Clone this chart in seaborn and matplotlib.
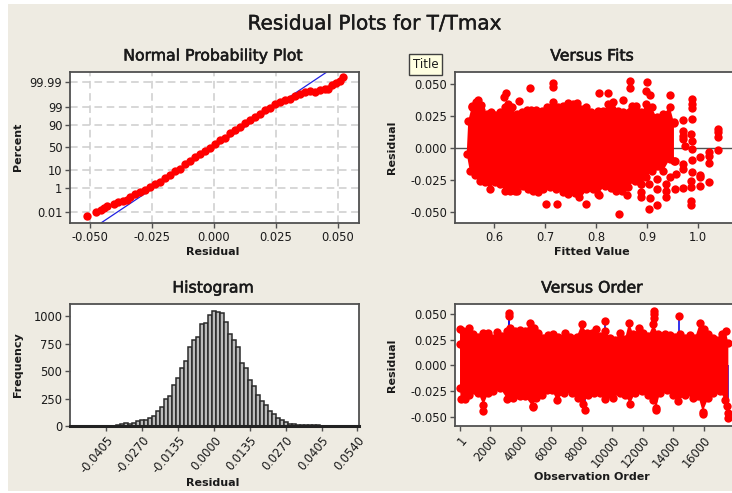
from statistics import NormalDist

import matplotlib.patheffects as pe
import numpy as np
import pandas as pd
import seaborn as sns
from matplotlib import pyplot as plt
from matplotlib.patches import Rectangle

# normal probability plot, y is the normal score of the percent
npp_resid = [-.0514, -.0478, -.0454, -.0444, -.0433, -.0404, -.0386, -.0366, -.0350, -.0337, -.0319, -.0299,
             -.0279, -.0258, -.0238, -.0218, -.0198, -.0178, -.0157, -.0137, -.0117, -.0097, -.0077, -.0057,
             -.0036, -.0016, .0004, .0024, .0044, .0065, .0085, .0105, .0125, .0145, .0166, .0186, .0206,
             .0226, .0246, .0267, .0287, .0307, .0327, .0347, .0367, .0388, .0408, .0428, .0448, .0462,
             .0475, .0495, .0509, .0522]
npp_score = [-3.92, -3.71, -3.58, -3.45, -3.33, -3.24, -3.14, -3.09, -3.01, -2.82, -2.70, -2.57,
             -2.42, -2.25, -2.11, -1.96, -1.73, -1.58, -1.37, -1.22, -.97, -.76, -.57, -.40,
             -.19, -.04, .17, .40, .55, .80, .99, 1.18, 1.37, 1.56, 1.71, 1.90, 2.10,
             2.27, 2.46, 2.59, 2.69, 2.76, 2.90, 3.03, 3.14, 3.22, 3.16, 3.28, 3.31, 3.35,
             3.56, 3.66, 3.81, 4.04]
fit_resid = [-.0454, .0455]
fit_score = [-4.31, 4.29]
percent_ticks = [0.01, 1, 10, 50, 90, 99, 99.99]
percent_labels = ["0.01", "1", "10", "50", "90", "99", "99.99"]
npp_xticks = [-.05, -.025, 0, .025, .05]

# versus fits, the solid mass as upper and lower edges plus the separate points
fits_up_x = [.549, .556, .565, .575, .585, .593, .601, .611, .621, .628, .634, .644, .654, .664, .673, .683,
             .693, .703, .716, .726, .735, .745, .755, .762, .771, .781, .791, .804, .814, .824, .834, .843,
             .853, .870, .879, .889, .899, .909, .919, .932, .945, .953]
fits_up_y = [.0213, .0323, .0357, .0297, .0265, .0278, .0260, .0278, .0318, .0344, .0318, .0265, .0278, .0297,
             .0297, .0297, .0286, .0323, .0357, .0318, .0331, .0351, .0344, .0351, .0305, .0323, .0278, .0291,
             .0286, .0344, .0357, .0291, .0278, .0331, .0331, .0278, .0344, .0318, .0239, .0265, .0318, .0200]
fits_low_x = [.546, .552, .562, .572, .582, .592, .601, .611, .621, .631, .644, .657, .667, .677, .686, .696,
              .709, .722, .735, .745, .758, .768, .781, .794, .804, .817, .830, .840, .850, .863, .876, .889,
              .899, .909, .932, .945, .953]
fits_low_y = [-.0047, -.0177, -.0209, -.0261, -.0268, -.0320, -.0268, -.0281, -.0334, -.0334, -.0334, -.0294,
              -.0320, -.0334, -.0347, -.0320, -.0307, -.0320, -.0347, -.0360, -.0354, -.0334, -.0320, -.0320,
              -.0360, -.0294, -.0313, -.0334, -.0334, -.0307, -.0255, -.0281, -.0229, -.0177, -.0177, -.0086,
              -.0099]
fits_pts_x = [.866, .866, .900, .899, .906, .945, .824, .805, .853, .716, .716, .670, .649, .624, .619, .569,
              .574, .556, .989, .989, .989, .989, .971, .953, .971, .971, .987, 1.040, 1.040, 1.040, 1.040,
              1.022, 1.022, 1.022, 1.005, .989, .971, .974, .989, .989, .971, .971, .989, 1.005, 1.005, .987,
              .987, 1.022, 1.005, .971, .955, .958, .945, .938, .938, .938, .955, .920, .920, .904, .889, .889,
              .889, .906, .920, .904, .987, .987, .845, .861, .805, .781, .767, .724, .701, .641]
fits_pts_y = [.0526, .0469, .0518, .0448, .0416, .0416, .0427, .0427, .0375, .0505, .0479, .0469, .0364, .0427,
              .0396, .0375, .0336, .0331, .0383, .0344, .0312, .0226, .0221, .0195, .0135, .0096, .0109, .0148,
              .0127, .0083, -.0016, -.0029, -.0060, -.0120, -.0073, -.0091, .0070, .0018, .0057, -.0008, -.0125,
              -.0164, -.0190, -.0209, -.0229, -.0255, -.0302, -.0268, -.0294, -.0313, -.0099, -.0203, -.0229,
              -.0281, -.0334, -.0380, -.0320, -.0242, -.0320, -.0281, -.0281, -.0347, -.0386, -.0391, -.0448,
              -.0477, -.0412, -.0443, -.0518, -.0365, -.0365, -.0438, -.0386, -.0438, -.0438, -.0334]
fits_xticks = [.6, .7, .8, .9, 1.0]
resid_ticks = [-.05, -.025, 0, .025, .05]

# histogram, 0.0015 wide bins from -0.054 to 0.054
hist_mid = [-.054 + .0015 * i for i in range(73)]
hist_count = [1, 1, 1, 1, 1, 2, 2, 2, 2, 3, 3, 4, 5, 15, 30, 20, 30, 48, 55, 58, 70, 95, 140, 170, 250, 275, 370,
              440, 525, 595, 715, 785, 810, 925, 940, 1010, 1050, 1040, 1025, 950, 835, 785, 715, 575, 525, 420,
              360, 280, 230, 190, 135, 110, 75, 55, 35, 22, 15, 12, 12, 10, 8, 8, 5, 3, 3, 2, 2, 2, 1, 1, 1, 1, 1]
hist_xticks = [-.0405, -.027, -.0135, 0, .0135, .027, .0405, .054]
hist_xlabels = ["-0.0405", "-0.0270", "-0.0135", "0.0000", "0.0135", "0.0270", "0.0405", "0.0540"]
hist_yticks = [0, 250, 500, 750, 1000]

# versus order
order_up_x = [33, 33, 251, 644, 906, 1234, 1561, 1888, 2107, 2478, 2762, 3089, 3307, 3635, 3962, 4290, 4617, 4879,
              5163, 5490, 5818, 6145, 6473, 6909, 7237, 7673, 8001, 8328, 8656, 8940, 9202, 9529, 9856, 10184,
              10511, 10839, 11101, 11385, 11777, 12039, 12367, 12694, 13022, 13458, 13786, 14113, 14441, 14768,
              15096, 15423, 15751, 16012, 16296, 16624, 16951, 17170, 17431, 17606]
order_up_y = [.0202, .0348, .0331, .0364, .0299, .0276, .0315, .0309, .0266, .0325, .0283, .0331, .0364, .0331,
              .0341, .0331, .0406, .0364, .0315, .0266, .0289, .0305, .0276, .0315, .0276, .0276, .0396, .0315,
              .0315, .0348, .0283, .0331, .0266, .0250, .0315, .0257, .0413, .0299, .0364, .0315, .0283, .0396,
              .0299, .0299, .0289, .0276, .0299, .0266, .0289, .0266, .0413, .0348, .0299, .0266, .0250, .0299,
              .0331, .0218]
order_low_x = [33, 77, 360, 644, 950, 1234, 1561, 1888, 2216, 2653, 3133, 3526, 3962, 4290, 4792, 5010, 5381, 5709,
               6036, 6364, 6844, 7346, 7783, 8110, 8437, 8809, 9202, 9529, 10075, 10511, 10839, 11166, 11494, 11930,
               12367, 12694, 12869, 13131, 13568, 14004, 14332, 14768, 15314, 15642, 15925, 16296, 16624, 17060,
               17388, 17497, 17606]
order_low_y = [-.0220, -.0328, -.0324, -.0285, -.0237, -.0269, -.0383, -.0269, -.0253, -.0220, -.0328, -.0318,
               -.0301, -.0301, -.0399, -.0318, -.0285, -.0237, -.0237, -.0334, -.0269, -.0269, -.0318, -.0373,
               -.0285, -.0269, -.0269, -.0328, -.0318, -.0269, -.0285, -.0373, -.0269, -.0253, -.0285, -.0334,
               -.0415, -.0269, -.0237, -.0285, -.0350, -.0285, -.0318, -.0301, -.0448, -.0318, -.0269, -.0253,
               -.0334, -.0399, -.0464]
order_pts_x = [3264, 3264, 1561, 4792, 8197, 12738, 12738, 12738, 14397, 9551, 17562, 12869, 15925]
order_pts_y = [.0510, .0478, -.0438, -.0405, -.0431, .0526, .0494, .0461, .0478, .0429, -.0506, -.0431, -.0470]
order_ticks = [1, 2000, 4000, 6000, 8000, 10000, 12000, 14000, 16000]

BG = "#eeebe2"
RED = "#ff0000"
DARK = "#505050"
TXT = "#1a1a1a"
MARK = 36
W, H = 732, 493

sns.set_style("white")
plt.rcParams["font.family"] = ["DejaVu Sans"]


def add_axes(fig, left, top, right, bottom):
    ax = fig.add_axes([left / W, 1 - bottom / H, (right - left) / W, (bottom - top) / H])
    ax.set_facecolor("white")
    for spine in ax.spines.values():
        spine.set_color(DARK)
        spine.set_linewidth(1.3)
    ax.tick_params(direction="out", length=3.5, width=1, color=DARK, labelsize=8.3, labelcolor=TXT, pad=2,
                   bottom=True, left=True)
    return ax


def heavy(text, width):
    text.set_path_effects([pe.withStroke(linewidth=width, foreground=TXT)])


def add_labels(fig, ax, title, xlabel, ylabel, title_y, xlabel_y, ylabel_x, center_x, center_y):
    ax.set_xlabel("")
    ax.set_ylabel("")
    heavy(fig.text(center_x / W, 1 - title_y / H, title, ha="center", va="center", fontsize=11.3, color=TXT), 0.4)
    fig.text(center_x / W, 1 - xlabel_y / H, xlabel, ha="center", va="center", fontsize=8, weight="bold", color=TXT)
    fig.text(ylabel_x / W, 1 - center_y / H, ylabel, ha="center", va="center", fontsize=8, weight="bold",
             rotation=90, color=TXT)


def draw_mass(ax, up_x, up_y, low_x, low_y):
    # solid block of overlapping points: outline polygon, round points on the edge
    ax.fill(list(up_x) + list(low_x)[::-1], list(up_y) + list(low_y)[::-1], color=RED, lw=0, zorder=3)
    sns.scatterplot(x=up_x, y=up_y, ax=ax, color=RED, s=MARK, linewidth=0, zorder=3)
    sns.scatterplot(x=low_x, y=low_y, ax=ax, color=RED, s=MARK, linewidth=0, zorder=3)


fig = plt.figure(figsize=(W / 100, H / 100), dpi=100, facecolor="white")
fig.patches.append(Rectangle((8 / W, 1 - 491 / H), (W - 8) / W, 487 / H, transform=fig.transFigure,
                             facecolor=BG, edgecolor="none", zorder=-10))
heavy(fig.text(375 / W, 1 - 24 / H, "Residual Plots for T/Tmax", ha="center", va="center", fontsize=14.4, color=TXT), 0.3)

# normal probability plot
ax = add_axes(fig, 70, 72, 359, 223)
percent_pos = [NormalDist().inv_cdf(p / 100) for p in percent_ticks]
ax.grid(True, color="#cdcdcd", lw=1.1, ls=(0, (5, 3)))
ax.set_axisbelow(True)
sns.lineplot(x=fit_resid, y=fit_score, ax=ax, color="#2020e0", lw=0.9, zorder=2)
sns.scatterplot(x=npp_resid, y=npp_score, ax=ax, color=RED, s=MARK, linewidth=0, zorder=3)
ax.set_xlim(-.0581, .0586)
ax.set_ylim(-4.33, 4.30)
ax.set_xticks(npp_xticks, ["-0.050", "-0.025", "0.000", "0.025", "0.050"])
ax.set_yticks(percent_pos, percent_labels)
add_labels(fig, ax, "Normal Probability Plot", "Residual", "Percent", 56, 252, 18, 213, 147)

# versus fits
ax = add_axes(fig, 455, 72, 732, 223)
ax.spines["right"].set_visible(False)
ax.axhline(0, color=DARK, lw=1, zorder=2)
draw_mass(ax, fits_up_x, fits_up_y, fits_low_x, fits_low_y)
sns.scatterplot(x=fits_pts_x, y=fits_pts_y, ax=ax, color=RED, s=MARK, linewidth=0, zorder=3)
ax.set_xlim(.523, 1.067)
ax.set_ylim(-.0586, .0594)
ax.set_xticks(fits_xticks, ["0.6", "0.7", "0.8", "0.9", "1.0"])
ax.set_yticks(resid_ticks, ["-0.050", "-0.025", "0.000", "0.025", "0.050"])
add_labels(fig, ax, "Versus Fits", "Fitted Value", "Residual", 56, 252, 392, 592, 147)
fig.text(425.5 / W, 1 - 64.5 / H, "Title", ha="center", va="center", fontsize=8.5, color=TXT, zorder=10,
         bbox=dict(boxstyle="square,pad=0.3", facecolor="#ffffe1", edgecolor="#404040", lw=1))

# histogram
ax = add_axes(fig, 70, 304, 359, 426)
sns.histplot(x=hist_mid, weights=hist_count, binwidth=.0015, binrange=(-.05475, .05475), ax=ax,
             color="#bcbcbc", edgecolor="#2a2a2a", linewidth=1.1, alpha=1)
ax.set_xlim(-.0542, .0546)
ax.set_ylim(0, 1110)
ax.spines["bottom"].set_linewidth(2.2)
ax.spines["bottom"].set_color("#222222")
ax.set_xticks(hist_xticks)
ax.set_xticklabels(hist_xlabels, rotation=50, ha="right", rotation_mode="anchor")
ax.set_yticks(hist_yticks)
add_labels(fig, ax, "Histogram", "Residual", "Frequency", 288, 483, 18, 213, 365)

# versus order
ax = add_axes(fig, 455, 304, 732, 426)
ax.spines["right"].set_visible(False)
ax.vlines(order_pts_x, 0, order_pts_y, color="#1010e8", lw=1.2, zorder=2)
draw_mass(ax, order_up_x, order_up_y, order_low_x, order_low_y)
sns.scatterplot(x=order_pts_x, y=order_pts_y, ax=ax, color=RED, s=MARK, linewidth=0, zorder=3)
ax.set_xlim(-295, 17845)
ax.set_ylim(-.0588, .0594)
ax.set_xticks(order_ticks)
ax.set_xticklabels([str(t) for t in order_ticks], rotation=50, ha="right", rotation_mode="anchor")
ax.set_yticks(resid_ticks, ["-0.050", "-0.025", "0.000", "0.025", "0.050"])
add_labels(fig, ax, "Versus Order", "Observation Order", "Residual", 288, 477, 392, 592, 365)

fig.savefig("out.png", dpi=100, facecolor="white")
